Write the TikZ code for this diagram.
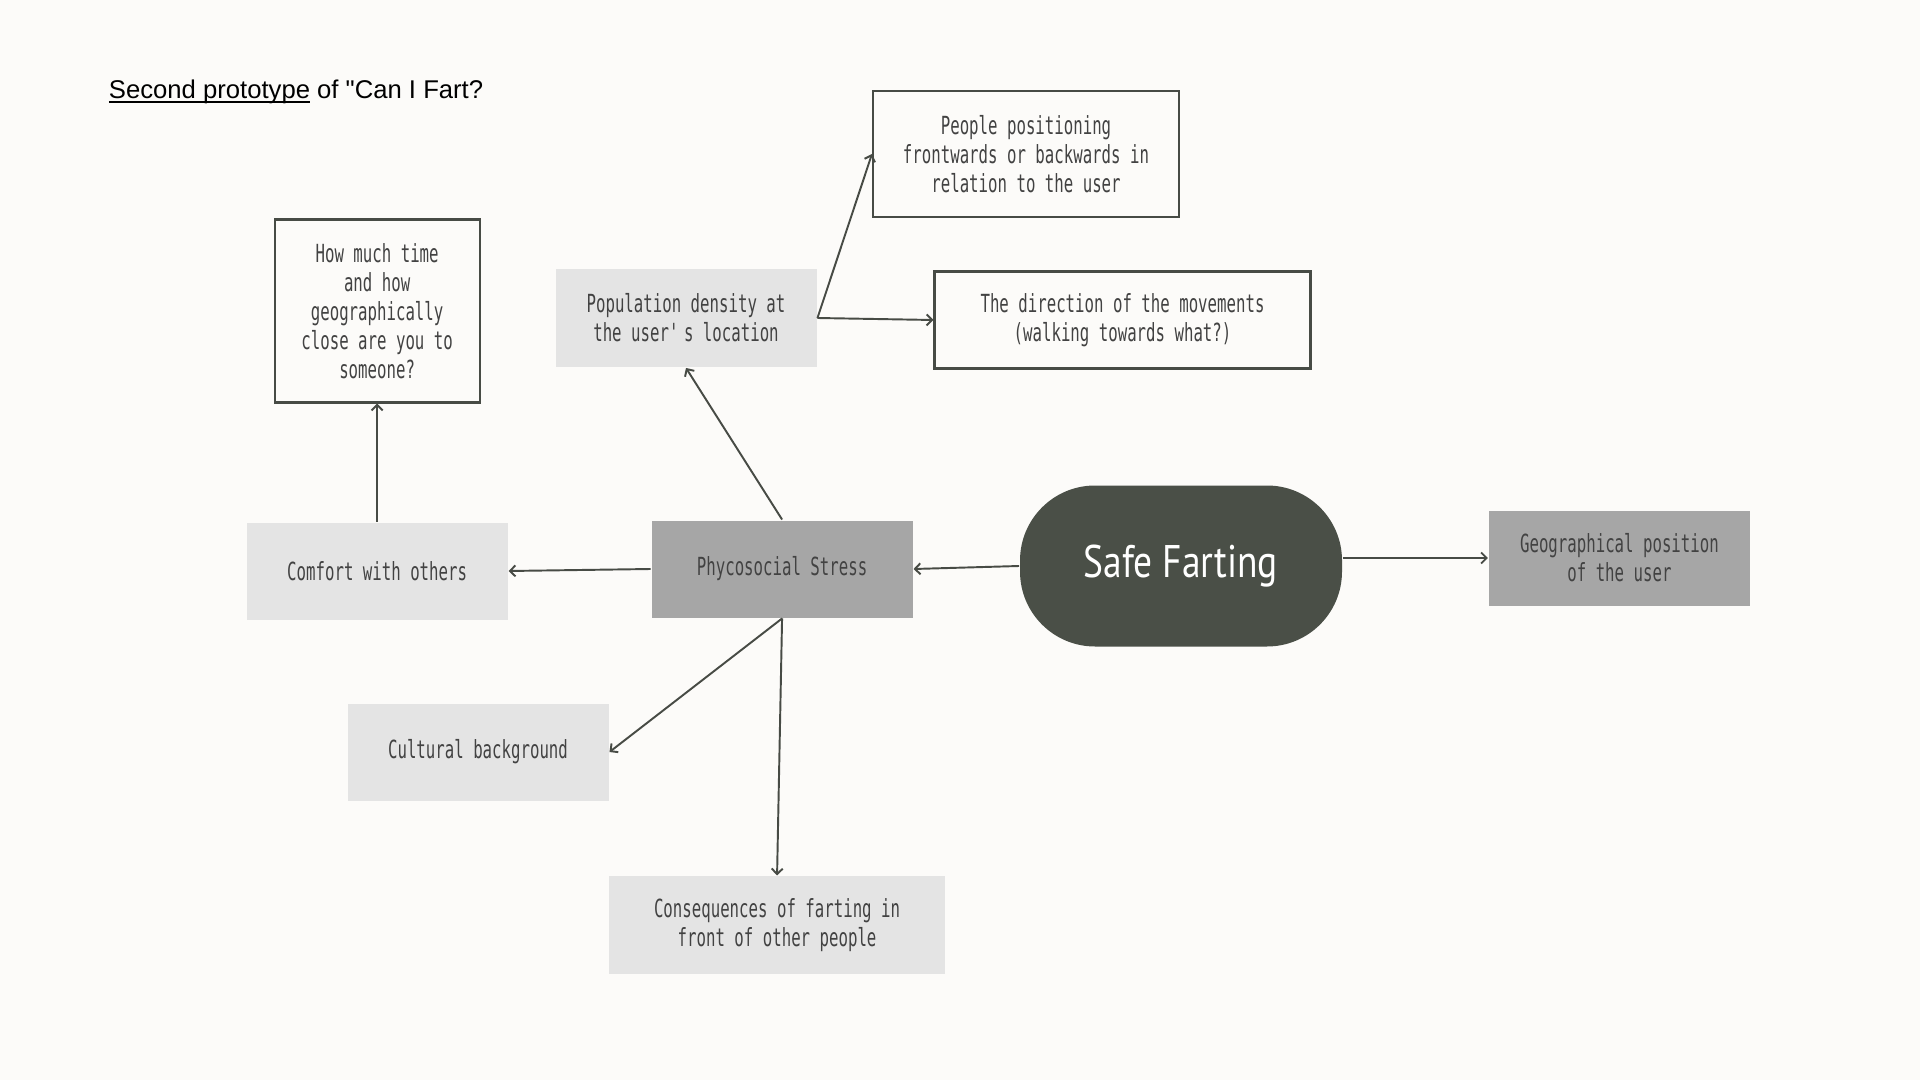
\documentclass[tikz,border=0pt]{standalone}
\usepackage{fontspec}
\usepackage{tikz}
\usetikzlibrary{positioning,arrows.meta}
\setmainfont{Liberation Sans}
\newfontfamily\boxfont{DejaVu Sans Mono}[FakeStretch=0.63]
\newfontfamily\hubfont{PT Sans}[FakeStretch=0.82]
\definecolor{paper}{HTML}{FCFBF9}
\definecolor{lightbox}{HTML}{E4E4E4}
\definecolor{midbox}{HTML}{A6A6A6}
\definecolor{hubfill}{HTML}{4A4F47}
\definecolor{edge}{HTML}{474B45}
\definecolor{ink}{HTML}{424242}
\newcommand\lowline[1]{\setbox0\hbox{#1}\rlap{\rule[-0.16em]{\wd0}{0.07em}}\box0\relax}

\begin{document}
\begin{tikzpicture}[>={Straight Barb[length=0.55mm,width=1.1mm]},
  line width=0.55pt,
  box/.style={minimum width=2.61cm,minimum height=0.97cm,align=center,inner sep=2pt,
              font=\boxfont\fontsize{7.1}{8.25}\selectfont,text=ink},
  lbox/.style={box,fill=lightbox},
  gbox/.style={box,fill=midbox},
  obox/.style={box,draw=edge,line width=0.6pt,fill=paper},
  hub/.style={fill=hubfill,rounded corners=0.75cm,minimum width=3.22cm,minimum height=1.61cm,
              text=white,font=\hubfont\fontsize{13}{16}\selectfont},
  link/.style={->,draw=edge}]
 \fill[paper] (0,0) rectangle (19.2,-10.8);
 \useasboundingbox (0,0) rectangle (19.2,-10.8);
 \node[anchor=base west,inner sep=0pt,font=\fontsize{7.3}{8.5}\selectfont] (title) at (1.08,-0.99)
      {\lowline{Second prototype} of \textquotedbl Can I Fart?};
 \node[hub] (safe) at (11.81,-5.66) {Safe Farting};
 \node[gbox,left=1.055cm of safe,yshift=-0.03cm] (stress) {Phycosocial Stress};
 \node[gbox,minimum height=0.95cm,right=1.45cm of safe,yshift=0.08cm] (geo) {Geographical position\\of the user};
 \node[lbox,left=1.42cm of stress,yshift=-0.02cm] (comfort) {Comfort with others};
 \node[obox,minimum width=2.05cm,minimum height=1.83cm,above=1.18cm of comfort] (time)
      {How much time\\and how\\geographically\\close are you to\\someone?};
 \node[lbox,minimum height=0.98cm] (density) at (6.86,-3.18) {Population density at\\the user\textquotesingle s location};
 \node[obox,minimum width=3.76cm,right=1.16cm of density,yshift=-0.02cm] (direction)
      {The direction of the movements\\(walking towards what?)};
 \node[obox,minimum width=3.06cm,minimum height=1.26cm] (people) at (10.26,-1.54)
      {People positioning\\frontwards or backwards in\\relation to the user};
 \node[lbox] (culture) at (4.78,-7.52) {Cultural background};
 \node[lbox,minimum width=3.36cm,minimum height=0.98cm,below=2.57cm of stress,xshift=-0.05cm] (consequences)
      {Consequences of farting in\\front of other people};
 \draw[link] (safe.west) -- (stress.east);
 \draw[link] (safe.east |- geo.west) -- (geo.west);
 \draw[link] (stress.west) -- (comfort.east);
 \draw[link] (comfort.north) -- (time.south);
 \draw[link] (stress.north) -- (density.south);
 \draw[link] (density.east) -- (people.west);
 \draw[link] (density.east) -- (direction.west);
 \draw[link] (stress.south) -- (culture.east);
 \draw[link] (stress.south) -- (consequences.north);
\end{tikzpicture}
\end{document}
